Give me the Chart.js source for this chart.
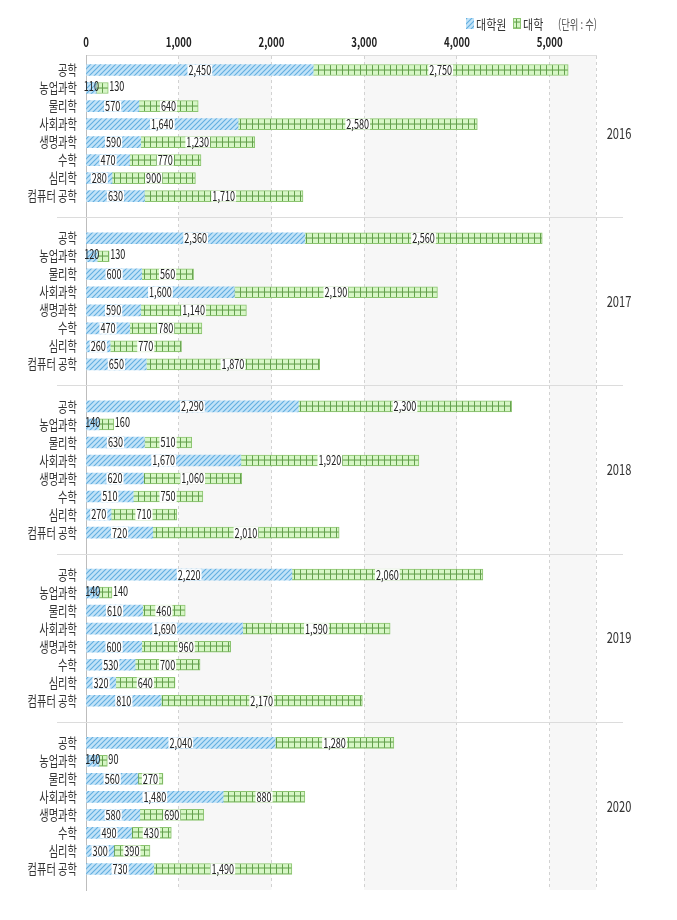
<!DOCTYPE html>
<html lang="ko">
<head>
<meta charset="utf-8">
<title>대학원 · 대학 분야별 현황</title>
<script src="https://cdn.jsdelivr.net/npm/chart.js@4.4.1/dist/chart.umd.min.js"></script>
<style>
  html, body { margin: 0; padding: 0; background: #fff; }
  #wrap { width: 677px; height: 920px; }
</style>
</head>
<body>
<div id="wrap"><canvas id="chart" width="677" height="920"></canvas></div>
<script>
const years = ['2016', '2017', '2018', '2019', '2020'];
const fields = ['공학', '농업과학', '물리학', '사회과학', '생명과학', '수학', '심리학', '컴퓨터 공학'];
const seriesNames = ['대학원', '대학'];
const unitLabel = '(단위 : 수)';

// 대학원
const grad2016 = [2450, 110, 570, 1640, 590, 470, 280, 630];
const grad2017 = [2360, 120, 600, 1600, 590, 470, 260, 650];
const grad2018 = [2290, 140, 630, 1670, 620, 510, 270, 720];
const grad2019 = [2220, 140, 610, 1690, 600, 530, 320, 810];
const grad2020 = [2040, 140, 560, 1480, 580, 490, 300, 730];

// 대학
const univ2016 = [2750, 130, 640, 2580, 1230, 770, 900, 1710];
const univ2017 = [2560, 130, 560, 2190, 1140, 780, 770, 1870];
const univ2018 = [2300, 160, 510, 1920, 1060, 750, 710, 2010];
const univ2019 = [2060, 140, 460, 1590, 960, 700, 640, 2170];
const univ2020 = [1280, 90, 270, 880, 690, 430, 390, 1490];

const gradByYear = [grad2016, grad2017, grad2018, grad2019, grad2020];
const univByYear = [univ2016, univ2017, univ2018, univ2019, univ2020];

const xTicks = [0, 1000, 2000, 3000, 4000, 5000];
const xMax = 5500;

const FONT = '"Noto Sans CJK KR", "Noto Sans", sans-serif';
const TEXT = '#333';

// each row takes 3 category slots, groups get extra blank slots between them
const labels = [];
const gradData = [];
const univData = [];
const rowSlots = [];
const groupStart = [];

function pushBlank() {
    labels.push('');
    gradData.push(null);
    univData.push(null);
}

years.forEach((yr, g) => {
    groupStart.push(labels.length);
    const pad = g === 0 ? 1 : 2;
    for (let i = 0; i < pad; i++) pushBlank();
    rowSlots.push([]);
    fields.forEach((f, i) => {
        pushBlank();
        rowSlots[g].push(labels.length);
        labels.push(f);
        gradData.push(gradByYear[g][i]);
        univData.push(univByYear[g][i]);
        pushBlank();
    });
    pushBlank();
    pushBlank();
});

const canvas = document.getElementById('chart');
const ctx = canvas.getContext('2d');

function makeHatch() {
    const c = document.createElement('canvas');
    c.width = 5; c.height = 5;
    const t = c.getContext('2d');
    t.fillStyle = '#c2e3f8';
    t.fillRect(0, 0, 5, 5);
    t.strokeStyle = '#62aee0';
    t.lineWidth = 1.1;
    t.beginPath();
    t.moveTo(0, 5); t.lineTo(5, 0);
    t.moveTo(-1, 1); t.lineTo(1, -1);
    t.moveTo(4, 6); t.lineTo(6, 4);
    t.stroke();
    return ctx.createPattern(c, 'repeat');
}

function makeGrid() {
    const c = document.createElement('canvas');
    c.width = 6; c.height = 6;
    const t = c.getContext('2d');
    t.fillStyle = '#d6f6c5';
    t.fillRect(0, 0, 6, 6);
    t.fillStyle = '#63a04c';
    t.fillRect(0, 0, 1, 6);
    t.fillRect(0, 0, 6, 1);
    const p = ctx.createPattern(c, 'repeat');
    p.setTransform(new DOMMatrix([1, 0, 0, 1, 0, 3.5]));
    return p;
}

const bluePattern = makeHatch();
const greenPattern = makeGrid();

// text squeezed horizontally, the source uses a narrow face
function narrowText(c, text, x, y, align, font, color, sx) {
    c.save();
    c.font = font;
    c.fillStyle = color;
    c.textBaseline = 'middle';
    c.textAlign = align;
    c.translate(x, y);
    c.scale(sx, 1);
    c.fillText(text, 0, 0);
    c.restore();
}

const VALUE_FONT = '13px ' + FONT;
const VALUE_SX = 0.7;

const decor = {
    id: 'decor',
    beforeDraw(chart) {
        const {ctx, chartArea: a, scales: {x}} = chart;
        ctx.save();
        ctx.fillStyle = '#f7f7f7';
        x.ticks.forEach((t, i) => {
            if (i % 2 !== 1) return;
            const x0 = x.getPixelForValue(t.value);
            const next = x.ticks[i + 1];
            const x1 = next ? x.getPixelForValue(next.value) : a.right;
            ctx.fillRect(x0, a.top, x1 - x0, a.bottom - a.top);
        });
        ctx.restore();
    },
    afterDatasetsDraw(chart) {
        const {ctx} = chart;
        const metas = [chart.getDatasetMeta(0), chart.getDatasetMeta(1)];
        ctx.save();
        rowSlots.flat().forEach(slot => {
            let prevRight = -Infinity;
            metas.forEach((meta, d) => {
                const v = chart.data.datasets[d].data[slot];
                const bar = meta.data[slot];
                const {x, base, y, height} = bar.getProps(['x', 'base', 'y', 'height'], true);
                const text = v.toLocaleString('en-US');
                ctx.font = VALUE_FONT;
                const w = ctx.measureText(text).width * VALUE_SX;
                const segW = Math.abs(x - base);
                let cx = (x + base) / 2;
                let ty = y;
                if (w + 2 <= segW) {
                    ctx.fillStyle = '#fff';
                    ctx.fillRect(cx - w / 2 - 1, y - height / 2, w + 2, height);
                } else {
                    ty = y - 2;
                    if (d === 1) cx = Math.max(x + 1 + w / 2, prevRight + 1 + w / 2);
                }
                narrowText(ctx, text, cx, ty, 'center', VALUE_FONT, '#222', VALUE_SX);
                prevRight = cx + w / 2;
            });
        });
        ctx.restore();
    },
    afterDraw(chart) {
        const {ctx, chartArea: a, scales: {x, y}} = chart;
        const slotH = y.getPixelForValue(1) - y.getPixelForValue(0);

        // x tick labels on top
        x.ticks.forEach(t => {
            if (!xTicks.includes(t.value)) return;
            narrowText(ctx, t.value.toLocaleString('en-US'), x.getPixelForValue(t.value), 42,
                'center', 'bold 13px ' + FONT, '#222', 0.74);
        });

        // separators between years
        ctx.save();
        ctx.strokeStyle = '#dcdcdc';
        ctx.lineWidth = 1;
        groupStart.forEach((s, g) => {
            if (g === 0) return;
            const py = Math.round(y.getPixelForValue(s) - slotH / 2) + 0.5;
            ctx.beginPath();
            ctx.moveTo(a.left - 29, py);
            ctx.lineTo(a.right + 27, py);
            ctx.stroke();
        });
        ctx.restore();

        // category labels and year labels
        rowSlots.forEach((slots, g) => {
            slots.forEach((s, i) => {
                narrowText(ctx, fields[i], a.left - 9, y.getPixelForValue(s), 'right',
                    '13.5px ' + FONT, TEXT, 0.76);
            });
            const mid = (y.getPixelForValue(slots[0]) + y.getPixelForValue(slots[slots.length - 1])) / 2;
            narrowText(ctx, years[g], a.right + 23, mid, 'center', '15px ' + FONT, TEXT, 0.74);
        });

        // legend
        ctx.save();
        ctx.fillStyle = bluePattern;
        ctx.fillRect(466, 18, 8, 11);
        ctx.fillStyle = greenPattern;
        ctx.fillRect(513, 18, 8, 11);
        ctx.strokeStyle = '#8bc46f';
        ctx.strokeRect(513.5, 18.5, 7, 10);
        ctx.restore();
        narrowText(ctx, seriesNames[0], 476, 24, 'left', '13px ' + FONT, TEXT, 0.85);
        narrowText(ctx, seriesNames[1], 523, 24, 'left', '13px ' + FONT, TEXT, 0.85);
        narrowText(ctx, unitLabel, a.right + 1, 24, 'right', '13px ' + FONT, '#555', 0.72);
    }
};

new Chart(ctx, {
    type: 'bar',
    data: {
        labels: labels,
        datasets: [{
            label: seriesNames[0],
            data: gradData,
            backgroundColor: bluePattern,
            borderWidth: 0,
            barThickness: 11
        }, {
            label: seriesNames[1],
            data: univData,
            backgroundColor: greenPattern,
            borderColor: '#8bc46f',
            borderWidth: 1,
            barThickness: 11
        }]
    },
    options: {
        indexAxis: 'y',
        responsive: false,
        animation: false,
        layout: {
            padding: {left: 86, right: 81, top: 55, bottom: 30}
        },
        plugins: {
            legend: {display: false},
            tooltip: {enabled: false}
        },
        scales: {
            x: {
                position: 'top',
                stacked: true,
                min: 0,
                max: xMax,
                ticks: {display: false},
                afterBuildTicks: scale => {
                    scale.ticks = xTicks.concat([xMax]).map(v => ({value: v}));
                },
                grid: {
                    drawTicks: false,
                    color: c => (c.tick && c.tick.value === 0) ? 'rgba(0,0,0,0)' : '#d2d2d2'
                },
                border: {display: true, color: '#dedede', dash: [3, 3]}
            },
            y: {
                stacked: true,
                ticks: {display: false, autoSkip: false},
                grid: {display: false, drawTicks: false},
                border: {display: true, color: '#bdbdbd'}
            }
        }
    },
    plugins: [decor]
});
</script>
</body>
</html>
